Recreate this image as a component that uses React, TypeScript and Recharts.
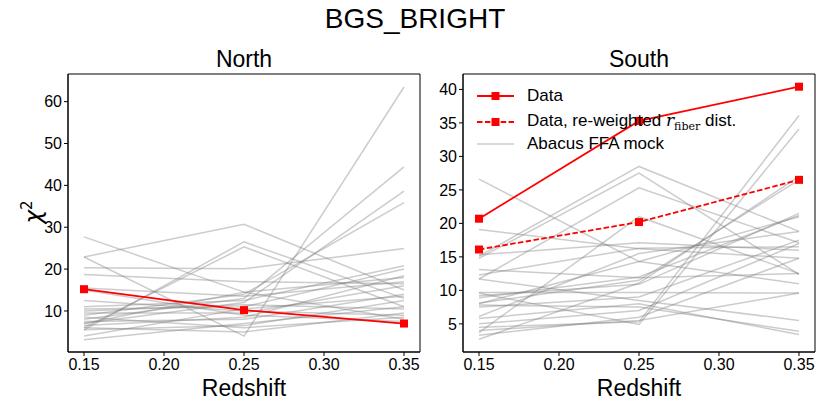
import React from 'react';
import { LineChart, Line, XAxis, YAxis, ReferenceArea } from 'recharts';

// redshift bins shared by both panels
const REDSHIFTS = [0.15, 0.25, 0.35];
const X_TICKS = [0.15, 0.2, 0.25, 0.3, 0.35];

// chi^2 per mock, one row per Abacus FFA realisation: [z=0.15, z=0.25, z=0.35]
const NORTH_MOCKS = [
  [22.9, 30.7, 15.0],
  [27.7, 14.5, 8.0],
  [22.9, 4.0, 63.5],
  [20.3, 20.1, 24.9],
  [18.7, 17.0, 16.5],
  [5.5, 26.5, 13.0],
  [6.0, 25.3, 11.0],
  [8.0, 13.0, 44.4],
  [7.0, 12.0, 38.6],
  [9.0, 14.0, 35.9],
  [11.0, 12.5, 20.8],
  [10.5, 11.0, 20.0],
  [6.5, 8.5, 18.4],
  [15.5, 13.5, 17.0],
  [9.5, 9.5, 16.0],
  [7.5, 8.0, 14.0],
  [5.5, 6.5, 12.5],
  [4.0, 10.5, 13.5],
  [3.1, 7.0, 11.0],
  [12.5, 10.0, 9.0],
  [8.5, 6.0, 8.5],
  [6.0, 5.0, 9.5],
  [15.0, 9.0, 7.5],
  [10.0, 11.5, 10.5],
  [7.0, 14.5, 18.0],
];
const NORTH_DATA = [15.2, 10.2, 7.0];

const SOUTH_MOCKS = [
  [26.6, 14.3, 11.0],
  [19.1, 16.2, 14.8],
  [15.1, 28.5, 18.8],
  [14.8, 27.5, 12.4],
  [11.7, 25.3, 17.1],
  [3.7, 21.0, 12.5],
  [9.6, 4.9, 34.1],
  [4.5, 5.3, 36.1],
  [2.7, 11.1, 27.0],
  [8.1, 11.5, 26.5],
  [9.2, 10.9, 21.5],
  [8.0, 14.3, 21.0],
  [6.1, 15.5, 18.8],
  [12.3, 16.3, 16.5],
  [15.3, 17.1, 16.0],
  [13.1, 11.9, 12.5],
  [7.5, 9.0, 17.5],
  [5.0, 7.0, 17.0],
  [4.0, 5.5, 9.6],
  [9.7, 9.7, 9.6],
  [11.7, 8.5, 5.5],
  [7.8, 7.5, 3.9],
  [5.8, 8.0, 3.4],
  [3.3, 6.0, 14.8],
  [8.9, 12.0, 21.2],
];
const SOUTH_DATA = [20.7, 35.3, 40.4];
const SOUTH_REWEIGHTED = [16.1, 20.2, 26.5];

const NORTH_TICKS = [10, 20, 30, 40, 50, 60];
const SOUTH_TICKS = [5, 10, 15, 20, 25, 30, 35, 40];

const FONT = '"Liberation Sans", Arial, sans-serif';
const SERIF = '"DejaVu Serif", serif';
const RED = '#FF0000';
const GRAY = '#808080';
const X_DOMAIN: [number, number] = [0.14, 0.36];

function buildRows(mocks: number[][], extra: Record<string, number[]>) {
  return REDSHIFTS.map((z, i) => {
    const row: Record<string, number> = { z };
    mocks.forEach((m, j) => { row[`m${j}`] = m[i]; });
    Object.keys(extra).forEach(k => { row[k] = extra[k][i]; });
    return row;
  });
}

const squareDot = (props: any) => {
  const { cx, cy, index } = props;
  return <rect key={`sq-${index}`} x={cx - 4} y={cy - 4} width={8} height={8} fill={RED} />;
};

const tickStyle = { fill: '#000', fontSize: 16, fontFamily: FONT };

interface PanelProps {
  left: number;
  width: number;
  yAxisWidth: number;
  rightMargin: number;
  domain: [number, number];
  ticks: number[];
  mocks: number[][];
  extra: Record<string, number[]>;
  title: string;
}

function Panel({ left, width, yAxisWidth, rightMargin, domain, ticks, mocks, extra, title }: PanelProps) {
  const rows = buildRows(mocks, extra);
  const plotLeft = yAxisWidth + 2;
  const plotRight = width - rightMargin;
  return (
    <div style={{ position: 'absolute', left, top: 0, width, height: 415 }}>
      <LineChart width={width} height={415} data={rows}
        margin={{ top: 74, right: rightMargin, bottom: 23, left: 2 }}>
        <XAxis dataKey="z" type="number" domain={X_DOMAIN} ticks={X_TICKS}
          tickFormatter={v => v.toFixed(2)} tick={tickStyle} tickSize={4} tickMargin={3}
          height={40} stroke="#000" allowDataOverflow />
        <YAxis type="number" domain={domain} ticks={ticks} tick={tickStyle} tickSize={4}
          tickMargin={2} width={yAxisWidth} stroke="#000" allowDataOverflow />
        {mocks.map((_, j) => (
          <Line key={j} dataKey={`m${j}`} stroke={GRAY} strokeOpacity={0.4} strokeWidth={1.5}
            dot={false} isAnimationActive={false} type="linear" />
        ))}
        {extra.rew && (
          <Line dataKey="rew" stroke={RED} strokeWidth={1.8} strokeDasharray="5.5 2.4"
            dot={squareDot} isAnimationActive={false} type="linear" />
        )}
        <Line dataKey="data" stroke={RED} strokeWidth={1.8} dot={squareDot}
          isAnimationActive={false} type="linear" />
        <ReferenceArea x1={X_DOMAIN[0]} x2={X_DOMAIN[1]} y1={domain[0]} y2={domain[1]}
          fill="none" stroke="#000" strokeWidth={1} ifOverflow="visible" />
      </LineChart>
      <div style={{ position: 'absolute', top: 46, left: plotLeft, width: plotRight - plotLeft,
        textAlign: 'center', fontSize: 23, fontFamily: FONT }}>{title}</div>
      <div style={{ position: 'absolute', top: 375, left: plotLeft, width: plotRight - plotLeft,
        textAlign: 'center', fontSize: 23, fontFamily: FONT }}>Redshift</div>
    </div>
  );
}

function LegendRow({ dashed, color, label, top }: { dashed?: boolean; color: string; label: React.ReactNode; top: number }) {
  const isMock = color === GRAY;
  return (
    <div style={{ position: 'absolute', left: 477, top: top - 11, height: 22, display: 'flex', alignItems: 'center' }}>
      <svg width={50} height={22}>
        <line x1={0} y1={11} x2={37} y2={11} stroke={color} strokeOpacity={isMock ? 0.4 : 1}
          strokeWidth={isMock ? 1.5 : 1.8} strokeDasharray={dashed ? '5.5 2.4' : undefined} />
        {!isMock && <rect x={14.5} y={7} width={8} height={8} fill={color} />}
      </svg>
      <span style={{ fontFamily: FONT, fontSize: 17, whiteSpace: 'nowrap' }}>{label}</span>
    </div>
  );
}

export default function App() {
  return (
    <div style={{ position: 'absolute', left: 0, top: 0, width: 830, height: 415, background: '#fff' }}>
      <div style={{ position: 'absolute', top: 3, left: 0, width: 830, textAlign: 'center',
        fontSize: 28, fontFamily: FONT }}>BGS_BRIGHT</div>
      <Panel left={0} width={430} yAxisWidth={66} rightMargin={10} domain={[0.2, 66.6]}
        ticks={NORTH_TICKS} mocks={NORTH_MOCKS} extra={{ data: NORTH_DATA }} title="North" />
      <Panel left={430} width={400} yAxisWidth={31} rightMargin={15} domain={[0.8, 42.3]}
        ticks={SOUTH_TICKS} mocks={SOUTH_MOCKS}
        extra={{ data: SOUTH_DATA, rew: SOUTH_REWEIGHTED }} title="South" />
      <div style={{ position: 'absolute', left: 7, top: 198, width: 40, height: 28, lineHeight: '28px',
        textAlign: 'center', transform: 'rotate(-90deg)', fontSize: 23, fontFamily: '"DejaVu Sans", sans-serif' }}>
        <i>χ</i><sup style={{ fontSize: 15 }}>2</sup>
      </div>
      <LegendRow color={RED} label="Data" top={96} />
      <LegendRow color={RED} dashed top={122} label={
        <>Data, re-weighted <i style={{ fontFamily: SERIF }}>r</i>
          <sub style={{ fontFamily: SERIF, fontSize: 11 }}>fiber</sub> dist.</>
      } />
      <LegendRow color={GRAY} label="Abacus FFA mock" top={144} />
    </div>
  );
}
